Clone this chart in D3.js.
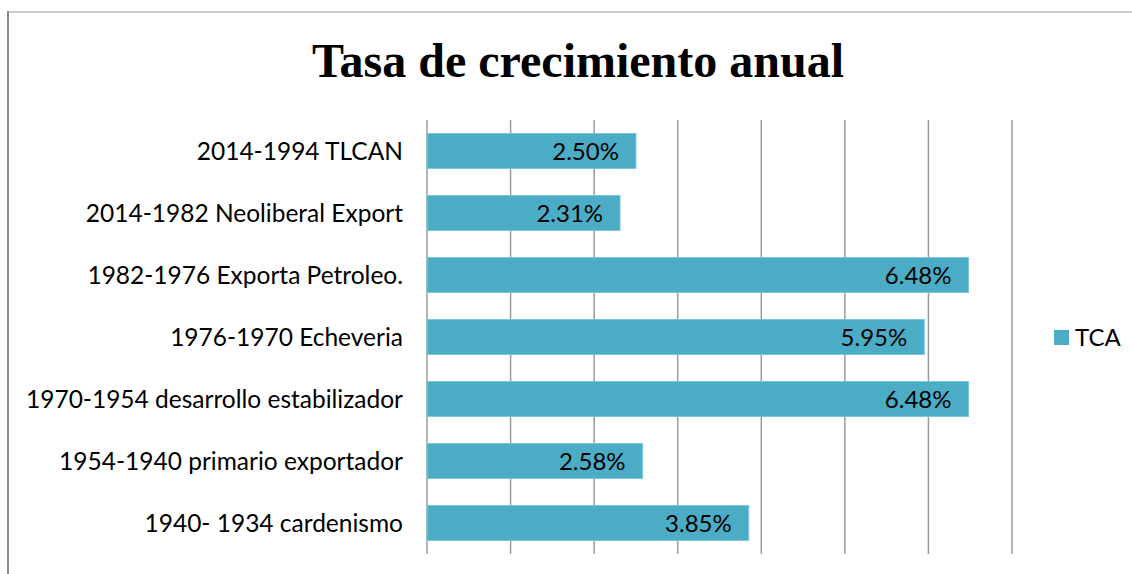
<!DOCTYPE html>
<html>
<head>
<meta charset="utf-8">
<script src="https://cdn.jsdelivr.net/npm/d3@7"></script>
<style>
  body { margin: 0; background: #fff; }
  svg { display: block; }
</style>
</head>
<body>
<svg id="chart" width="1132" height="574"></svg>
<script>
// data
const categories = [
  '2014-1994 TLCAN',
  '2014-1982 Neoliberal Export',
  '1982-1976 Exporta Petroleo.',
  '1976-1970 Echeveria',
  '1970-1954 desarrollo estabilizador',
  '1954-1940 primario exportador',
  '1940- 1934 cardenismo'
];
const tcaValues = [2.50, 2.31, 6.48, 5.95, 6.48, 2.58, 3.85];
const seriesName = 'TCA';
const titleText = 'Tasa de crecimiento anual';

const W = 1132, H = 574;
const labelFont = 'Lato, "Open Sans", sans-serif';
const barColor = '#4bacc6';

const svg = d3.select('#chart');

// frame
svg.append('line').attr('x1', 8).attr('x2', W).attr('y1', 12).attr('y2', 12)
  .attr('stroke', '#bdbdbd').attr('stroke-width', 1.5);
svg.append('line').attr('x1', 8).attr('x2', 8).attr('y1', 11).attr('y2', H)
  .attr('stroke', '#8a8a8a').attr('stroke-width', 2);

// title
svg.append('text')
  .attr('x', 578).attr('y', 77)
  .attr('text-anchor', 'middle')
  .style('font', 'bold 48px "Liberation Serif", "Times New Roman", serif')
  .attr('fill', '#000')
  .text(titleText);

const x = d3.scaleLinear().domain([0, 7]).range([427, 1012]);
const y = d3.scaleBand().domain(categories).range([120, 554])
  .paddingInner(0.435).paddingOuter(0.2175);

// gridlines
svg.append('g').selectAll('line')
  .data(x.ticks(7))
  .join('line')
  .attr('x1', d => x(d)).attr('x2', d => x(d))
  .attr('y1', 120).attr('y2', 554)
  .attr('stroke', '#9a9a9a').attr('stroke-width', 1.5);

// bars
svg.append('g').selectAll('rect')
  .data(tcaValues)
  .join('rect')
  .attr('x', x(0))
  .attr('y', (d, i) => y(categories[i]))
  .attr('width', d => x(d) - x(0))
  .attr('height', y.bandwidth())
  .attr('fill', barColor)
  .attr('stroke', '#7cc7db').attr('stroke-width', 1);

// value labels
svg.append('g').selectAll('text')
  .data(tcaValues)
  .join('text')
  .attr('x', d => x(d) - 17)
  .attr('y', (d, i) => y(categories[i]) + y.bandwidth() / 2)
  .attr('dy', '0.37em')
  .attr('text-anchor', 'end')
  .style('font', '24px ' + labelFont)
  .attr('fill', '#000')
  .text(d => d.toFixed(2) + '%');

// category labels
svg.append('g').selectAll('text')
  .data(categories)
  .join('text')
  .attr('x', 403)
  .attr('y', d => y(d) + y.bandwidth() / 2)
  .attr('dy', '0.35em')
  .attr('text-anchor', 'end')
  .style('font', '24.5px ' + labelFont)
  .attr('fill', '#000')
  .text(d => d);

// legend
const legend = svg.append('g').attr('transform', 'translate(1054,330)');
legend.append('rect').attr('width', 15).attr('height', 15).attr('fill', barColor);
legend.append('text').attr('x', 21).attr('y', 7.5).attr('dy', '0.35em')
  .style('font', '24px ' + labelFont).attr('fill', '#000').text(seriesName);
</script>
</body>
</html>
